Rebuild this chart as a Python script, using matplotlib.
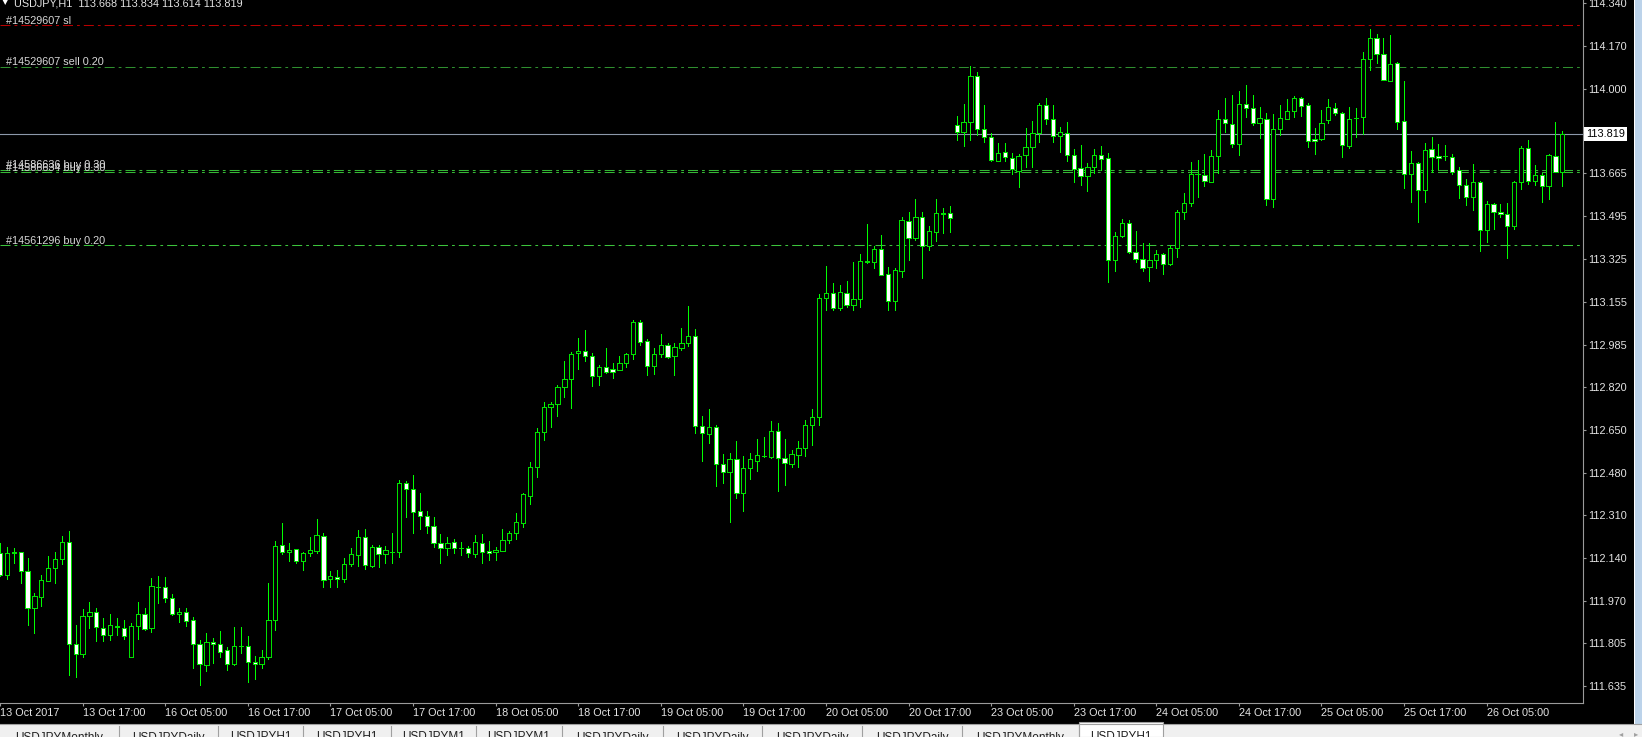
import matplotlib
matplotlib.use('Agg')
import matplotlib.pyplot as plt
from matplotlib.patches import Rectangle
import matplotlib.transforms as mtransforms

plt.rcParams['font.family'] = ['Liberation Sans', 'DejaVu Sans']
plt.rcParams['lines.scale_dashes'] = False

# USDJPY H1, 13 Oct 2017 05:00 .. 26 Oct 2017 16:00 (one value per bar)
opens = [
    112.160, 112.074, 112.165, 112.164, 112.090, 111.942, 111.989, 112.052, 112.101, 112.136,
    112.206, 111.800, 111.760, 111.912, 111.927, 111.866, 111.837, 111.872, 111.866, 111.751,
    111.872, 111.919, 111.865, 112.028, 112.026, 111.985, 111.919, 111.927, 111.895, 111.800,
    111.718, 111.810, 111.800, 111.777, 111.721, 111.794, 111.793, 111.729, 111.722, 111.751,
    111.895, 112.192, 112.165, 112.176, 112.131, 112.160, 112.171, 112.229, 112.057, 112.067,
    112.057, 112.118, 112.154, 112.224, 112.111, 112.187, 112.157, 112.167, 112.164, 112.437,
    112.414, 112.326, 112.308, 112.270, 112.200, 112.180, 112.204, 112.183, 112.183, 112.157,
    112.200, 112.169, 112.164, 112.171, 112.213, 112.242, 112.282, 112.389, 112.503, 112.642,
    112.741, 112.751, 112.817, 112.850, 112.952, 112.961, 112.943, 112.863, 112.897, 112.889,
    112.886, 112.915, 112.949, 113.075, 113.001, 112.902, 112.949, 112.984, 112.941, 112.974,
    112.992, 113.020, 112.666, 112.631, 112.659, 112.512, 112.481, 112.532, 112.398, 112.497,
    112.527, 112.547, 112.543, 112.646, 112.536, 112.512, 112.549, 112.576, 112.668, 112.699,
    113.170, 113.190, 113.133, 113.192, 113.143, 113.166, 113.317, 113.315, 113.364, 113.265,
    113.160, 113.279, 113.476, 113.410, 113.493, 113.378, 113.433, 113.506, 113.509, 113.856,
    113.830, 113.869, 114.051, 113.839, 113.810, 113.714, 113.748, 113.727, 113.675, 113.737,
    113.767, 113.826, 113.935, 113.880, 113.814, 113.826, 113.737, 113.687, 113.655, 113.691,
    113.737, 113.724, 113.321, 113.417, 113.469, 113.352, 113.324, 113.292, 113.321, 113.345,
    113.304, 113.368, 113.510, 113.546, 113.661, 113.658, 113.629, 113.734, 113.880, 113.860,
    113.781, 113.939, 113.922, 113.862, 113.880, 113.563, 113.839, 113.880, 113.912, 113.961,
    113.935, 113.799, 113.799, 113.875, 113.924, 113.902, 113.774, 113.885, 113.886, 114.116,
    114.199, 114.136, 114.031, 114.100, 113.873, 113.661, 113.707, 113.598, 113.761, 113.733,
    113.733, 113.730, 113.678, 113.618, 113.569, 113.632, 113.440, 113.542, 113.513, 113.502,
    113.457, 113.629, 113.763, 113.635, 113.657, 113.614, 113.734, 113.668,
]
highs = [
    112.200, 112.187, 112.183, 112.166, 112.140, 112.002, 112.074, 112.150, 112.167, 112.229,
    112.249, 111.876, 111.940, 111.969, 111.945, 111.905, 111.920, 111.904, 111.896, 111.886,
    111.967, 111.944, 112.064, 112.071, 112.065, 111.998, 111.943, 111.944, 111.910, 111.817,
    111.843, 111.824, 111.853, 111.791, 111.870, 111.870, 111.833, 111.754, 111.777, 112.044,
    112.209, 112.279, 112.200, 112.178, 112.167, 112.224, 112.297, 112.240, 112.092, 112.094,
    112.143, 112.180, 112.253, 112.255, 112.193, 112.193, 112.189, 112.242, 112.450, 112.446,
    112.470, 112.398, 112.328, 112.305, 112.237, 112.226, 112.216, 112.204, 112.191, 112.233,
    112.237, 112.207, 112.187, 112.255, 112.249, 112.319, 112.400, 112.523, 112.655, 112.758,
    112.758, 112.827, 112.922, 112.958, 113.011, 113.044, 112.955, 112.906, 112.974, 112.912,
    112.941, 112.952, 113.084, 113.084, 113.007, 112.972, 113.028, 112.991, 112.994, 113.051,
    113.139, 113.047, 112.705, 112.730, 112.668, 112.553, 112.556, 112.606, 112.545, 112.556,
    112.611, 112.622, 112.684, 112.677, 112.613, 112.569, 112.606, 112.688, 112.731, 113.187,
    113.298, 113.229, 113.222, 113.238, 113.313, 113.345, 113.464, 113.377, 113.419, 113.292,
    113.288, 113.493, 113.513, 113.563, 113.510, 113.456, 113.563, 113.529, 113.535, 113.892,
    113.939, 114.089, 114.064, 113.935, 113.823, 113.786, 113.783, 113.744, 113.741, 113.843,
    113.872, 113.942, 113.961, 113.935, 113.849, 113.866, 113.760, 113.777, 113.704, 113.760,
    113.773, 113.744, 113.431, 113.482, 113.480, 113.437, 113.387, 113.390, 113.361, 113.348,
    113.381, 113.519, 113.588, 113.711, 113.717, 113.740, 113.757, 113.915, 113.961, 113.975,
    113.991, 114.014, 113.975, 113.926, 113.905, 113.899, 113.935, 113.957, 113.971, 113.965,
    113.942, 113.843, 113.915, 113.958, 113.944, 113.908, 113.926, 113.922, 114.144, 114.235,
    114.216, 114.199, 114.212, 114.104, 114.031, 113.753, 113.708, 113.783, 113.810, 113.781,
    113.777, 113.741, 113.691, 113.642, 113.701, 113.634, 113.555, 113.548, 113.543, 113.548,
    113.636, 113.773, 113.796, 113.697, 113.667, 113.740, 113.869, 113.834,
]
lows = [
    112.070, 112.057, 112.121, 112.044, 111.876, 111.846, 111.952, 112.050, 112.041, 112.118,
    111.678, 111.672, 111.751, 111.866, 111.814, 111.814, 111.817, 111.837, 111.821, 111.750,
    111.821, 111.857, 111.850, 111.965, 111.969, 111.916, 111.887, 111.874, 111.708, 111.639,
    111.696, 111.725, 111.751, 111.698, 111.718, 111.764, 111.650, 111.663, 111.705, 111.742,
    111.857, 112.158, 112.130, 112.120, 112.094, 112.150, 112.160, 112.028, 112.028, 112.026,
    112.048, 112.110, 112.108, 112.097, 112.105, 112.107, 112.121, 112.121, 112.144, 112.305,
    112.239, 112.255, 112.239, 112.184, 112.121, 112.154, 112.163, 112.154, 112.147, 112.147,
    112.123, 112.134, 112.134, 112.170, 112.202, 112.216, 112.266, 112.356, 112.464, 112.609,
    112.662, 112.705, 112.780, 112.737, 112.889, 112.923, 112.823, 112.827, 112.873, 112.856,
    112.886, 112.897, 112.929, 112.985, 112.866, 112.870, 112.939, 112.932, 112.866, 112.965,
    112.981, 112.635, 112.526, 112.596, 112.427, 112.437, 112.285, 112.378, 112.329, 112.453,
    112.487, 112.540, 112.539, 112.407, 112.431, 112.503, 112.503, 112.545, 112.589, 112.668,
    113.124, 113.124, 113.124, 113.137, 113.124, 113.137, 113.308, 113.288, 113.262, 113.124,
    113.124, 113.255, 113.321, 113.401, 113.251, 113.361, 113.398, 113.427, 113.434, 113.796,
    113.773, 113.796, 113.816, 113.790, 113.713, 113.713, 113.715, 113.662, 113.612, 113.688,
    113.691, 113.790, 113.860, 113.790, 113.750, 113.715, 113.631, 113.618, 113.596, 113.667,
    113.678, 113.236, 113.279, 113.411, 113.348, 113.315, 113.279, 113.240, 113.288, 113.266,
    113.302, 113.335, 113.484, 113.536, 113.572, 113.616, 113.629, 113.664, 113.829, 113.770,
    113.737, 113.886, 113.856, 113.803, 113.539, 113.532, 113.816, 113.880, 113.889, 113.891,
    113.770, 113.740, 113.796, 113.865, 113.895, 113.730, 113.763, 113.810, 113.820, 114.074,
    114.103, 114.034, 114.031, 113.839, 113.605, 113.552, 113.470, 113.552, 113.671, 113.680,
    113.717, 113.662, 113.565, 113.539, 113.519, 113.358, 113.394, 113.444, 113.490, 113.331,
    113.443, 113.602, 113.622, 113.618, 113.552, 113.563, 113.668, 113.614,
]
closes = [
    112.075, 112.163, 112.160, 112.090, 111.942, 111.991, 112.055, 112.101, 112.138, 112.206,
    111.800, 111.762, 111.912, 111.927, 111.867, 111.837, 111.876, 111.870, 111.834, 111.872,
    111.919, 111.861, 112.030, 112.026, 111.983, 111.919, 111.928, 111.892, 111.800, 111.722,
    111.810, 111.800, 111.768, 111.722, 111.793, 111.792, 111.729, 111.722, 111.751, 111.895,
    112.189, 112.164, 112.172, 112.131, 112.163, 112.173, 112.232, 112.055, 112.070, 112.057,
    112.117, 112.156, 112.224, 112.114, 112.187, 112.156, 112.173, 112.166, 112.437, 112.414,
    112.325, 112.308, 112.270, 112.200, 112.180, 112.200, 112.183, 112.182, 112.160, 112.204,
    112.167, 112.163, 112.173, 112.213, 112.239, 112.283, 112.394, 112.503, 112.642, 112.741,
    112.751, 112.817, 112.850, 112.949, 112.960, 112.941, 112.863, 112.899, 112.879, 112.879,
    112.915, 112.948, 113.075, 112.995, 112.902, 112.949, 112.984, 112.939, 112.976, 112.992,
    113.022, 112.666, 112.635, 112.662, 112.512, 112.481, 112.532, 112.398, 112.497, 112.532,
    112.548, 112.546, 112.646, 112.536, 112.516, 112.552, 112.576, 112.668, 112.699, 113.170,
    113.190, 113.133, 113.195, 113.143, 113.166, 113.319, 113.315, 113.364, 113.262, 113.160,
    113.282, 113.480, 113.410, 113.493, 113.378, 113.436, 113.506, 113.505, 113.486, 113.830,
    113.869, 114.051, 113.839, 113.810, 113.717, 113.744, 113.728, 113.680, 113.733, 113.767,
    113.826, 113.935, 113.880, 113.814, 113.827, 113.737, 113.682, 113.655, 113.691, 113.737,
    113.720, 113.321, 113.416, 113.469, 113.354, 113.324, 113.288, 113.321, 113.345, 113.304,
    113.370, 113.510, 113.546, 113.662, 113.660, 113.635, 113.734, 113.880, 113.862, 113.781,
    113.938, 113.924, 113.862, 113.882, 113.563, 113.839, 113.885, 113.911, 113.961, 113.931,
    113.792, 113.792, 113.865, 113.926, 113.902, 113.775, 113.880, 113.884, 114.116, 114.202,
    114.136, 114.034, 114.096, 113.869, 113.661, 113.707, 113.598, 113.757, 113.728, 113.724,
    113.732, 113.671, 113.618, 113.569, 113.629, 113.440, 113.542, 113.510, 113.504, 113.457,
    113.629, 113.763, 113.635, 113.657, 113.616, 113.737, 113.668, 113.819,
]

time_labels = ['13 Oct 2017', '13 Oct 17:00', '16 Oct 05:00', '16 Oct 17:00', '17 Oct 05:00',
               '17 Oct 17:00', '18 Oct 05:00', '18 Oct 17:00', '19 Oct 05:00', '19 Oct 17:00',
               '20 Oct 05:00', '20 Oct 17:00', '23 Oct 05:00', '23 Oct 17:00', '24 Oct 05:00',
               '24 Oct 17:00', '25 Oct 05:00', '25 Oct 17:00', '26 Oct 05:00']
price_labels = ['114.340', '114.170', '114.000', '113.665', '113.495', '113.325', '113.155',
                '112.985', '112.820', '112.650', '112.480', '112.310', '112.140', '111.970',
                '111.805', '111.635']

order_labels = ['#14529607 sl', '#14529607 sell 0.20', '#14586636 buy 0.30',
                '#14586634 buy 0.30', '#14561296 buy 0.20']
order_prices = [114.2505, 114.0854, 113.6777, 113.6686, 113.3795]
order_colors = ['#b80000', '#2f8f2f', '#35b835', '#35b835', '#3cc43c']

bid = 113.819
header = 'USDJPY,H1  113.668 113.834 113.614 113.819'
tabs = ['USDJPYMonthly', 'USDJPYDaily', 'USDJPYH1', 'USDJPYH1', 'USDJPYM1', 'USDJPYM1',
        'USDJPYDaily', 'USDJPYDaily', 'USDJPYDaily', 'USDJPYDaily', 'USDJPYMonthly', 'USDJPYH1']
tab_edges = [0, 119, 218, 303, 391, 476, 562, 663, 762, 862, 962, 1079, 1163]

W, H = 1642, 737
TXT = '#e4e4e4'
GRID = '#9a9a9a'
LIME = '#00ff00'


def fx(px):
    return px / W


def fy(py):
    return 1 - py / H


fig = plt.figure(figsize=(W / 100, H / 100), dpi=100, facecolor='black')
ax = fig.add_axes([0, fy(703), fx(1583), 703 / H])
ax.set_facecolor('black')

n = len(opens)
xs = list(range(n))

# candles: wick, then body (bull = black, bear = white)
ax.vlines(xs, lows, highs, colors=LIME, linewidth=0.6, antialiased=False, zorder=3)
bottoms = [min(o, c) for o, c in zip(opens, closes)]
heights = [abs(c - o) for o, c in zip(opens, closes)]
fills = ['black' if c > o else 'white' for o, c in zip(opens, closes)]
ax.bar(xs, heights, bottom=bottoms, width=0.62, color=fills, edgecolor='#00e000',
       linewidth=0.5, antialiased=False, zorder=4)

ax.set_xlim(0.232, 230.0)
ax.set_ylim(111.5676, 114.3507)

# order lines
for lab, p, col in zip(order_labels, order_prices, order_colors):
    ax.axhline(p, color=col, linewidth=0.75, dashes=(7.2, 2.9, 2.0, 2.9), zorder=2)
    ax.annotate(lab, xy=(fx(6) / fx(1583), p), xycoords=('axes fraction', 'data'),
                xytext=(0, 1.2), textcoords='offset points', va='baseline', ha='left',
                fontsize=7.8, color='#d8d8d8', zorder=5)

ax.axhline(bid, color='#8c98aa', linewidth=0.8, zorder=2)

# axes look
for s in ['top', 'left']:
    ax.spines[s].set_visible(False)
for s in ['right', 'bottom']:
    ax.spines[s].set_color(GRID)
    ax.spines[s].set_linewidth(0.8)

ax.yaxis.tick_right()
ax.set_yticks([float(v) for v in price_labels], price_labels)
ax.tick_params(axis='y', colors=GRID, labelcolor=TXT, length=2.2, width=0.8, pad=1.5,
               labelsize=7.8)
ax.set_xticks(list(range(0, 12 * len(time_labels), 12)), time_labels)
ax.tick_params(axis='x', colors=GRID, labelcolor=TXT, length=2.2, width=0.8, pad=1.5,
               labelsize=7.8)
for t in ax.get_xticklabels():
    t.set_horizontalalignment('left')

# current price box
tr = mtransforms.blended_transform_factory(ax.transAxes, ax.transData)
ax.text(1.0 + fx(3) / fx(1583), bid, f'{bid:.3f}', transform=tr, va='center', ha='left',
        fontsize=7.8, color='black', zorder=6,
        bbox=dict(boxstyle='square,pad=0.2', fc='white', ec='none'))

# header (cut by the top edge, as on screen)
fig.text(fx(2), fy(1.5), '\u25bc', fontsize=6, color='white', va='center', ha='left',
         family=['DejaVu Sans'])
fig.text(fx(14), fy(3), header, fontsize=7.8, color=TXT, va='center', ha='left')

# right strip
fig.patches.append(Rectangle((fx(1634), fy(724)), fx(8), 724 / H, transform=fig.transFigure,
                             fc='#bcd3ea', ec='none'))
fig.patches.append(Rectangle((fx(1634), fy(724)), fx(1), 724 / H, transform=fig.transFigure,
                             fc='white', ec='none'))

# tab bar
fig.patches.append(Rectangle((0, 0), 1, 13 / H, transform=fig.transFigure,
                             fc='#f0f0f0', ec='none'))
fig.lines.append(plt.Line2D([0, 1], [fy(724), fy(724)], transform=fig.transFigure,
                            color='#a0a0a0', linewidth=0.8))
for i, lab in enumerate(tabs):
    x0, x1 = tab_edges[i], tab_edges[i + 1]
    if i == len(tabs) - 1:
        fig.patches.append(Rectangle((fx(x0), 0), fx(x1 - x0), 15 / H,
                                     transform=fig.transFigure, fc='white',
                                     ec='#a0a0a0', lw=0.8))
    else:
        fig.lines.append(plt.Line2D([fx(x1), fx(x1)], [0, fy(726)], transform=fig.transFigure,
                                    color='#a0a0a0', linewidth=0.8))
    fig.text(fx((x0 + x1) / 2), fy(731.5), lab, fontsize=8.5, color='#202020',
             va='top', ha='center')
fig.text(fx(1621), fy(734), '\u25c2', fontsize=6, color='#a0a0a0', ha='center',
         va='center', family=['DejaVu Sans'])
fig.text(fx(1636), fy(734), '\u25b8', fontsize=6, color='#a0a0a0', ha='center',
         va='center', family=['DejaVu Sans'])

fig.savefig('out.png', dpi=100, facecolor='black')
